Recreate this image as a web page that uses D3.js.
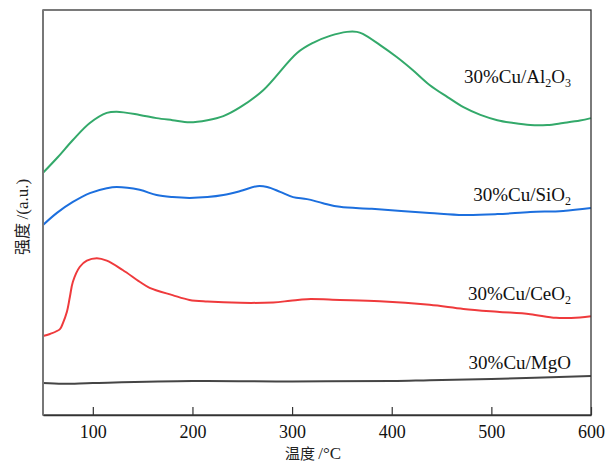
<!DOCTYPE html>
<html>
<head>
<meta charset="utf-8">
<script src="https://cdn.jsdelivr.net/npm/d3@7"></script>
<style>
  body { margin: 0; background: #fff; }
  text { font-family: "Liberation Serif", "Times New Roman", serif; }
  .cjk { font-family: "Noto Sans CJK SC", sans-serif; }
</style>
</head>
<body>
<svg id="chart" width="606" height="462"></svg>
<script>
// temperature (°C) / intensity (a.u.) readings for each catalyst
const tempAl = [50, 65, 80, 97, 114, 124, 147, 164, 180, 197, 215, 231, 248, 271, 305, 321, 338, 355, 365, 371, 388, 405, 421, 438, 456, 472, 489, 506, 522, 539, 556, 572, 589, 600];
const valAl  = [59.8, 63.7, 67.9, 72.1, 74.6, 74.9, 74.1, 73.3, 72.8, 72.3, 72.8, 73.8, 76.0, 80.2, 89.4, 91.9, 93.6, 94.6, 94.6, 94.1, 91.4, 88.4, 85.2, 81.5, 78.5, 76.0, 74.1, 72.8, 72.1, 71.6, 71.6, 72.1, 72.7, 73.3];

const tempSi = [50, 64, 80, 97, 114, 124, 147, 164, 180, 197, 215, 231, 248, 265, 275, 288, 301, 315, 331, 348, 380, 438, 472, 506, 539, 572, 600];
const valSi  = [46.9, 49.9, 52.6, 54.8, 56.0, 56.3, 55.6, 54.3, 53.8, 53.6, 53.8, 54.3, 55.3, 56.5, 56.3, 55.1, 53.8, 53.3, 52.3, 51.4, 50.9, 49.9, 49.4, 49.6, 50.1, 50.4, 51.1];

const tempCe = [50, 57, 67, 70, 74, 77, 80, 87, 94, 104, 114, 130, 147, 157, 180, 197, 215, 248, 281, 298, 315, 348, 388, 438, 472, 506, 539, 565, 589, 600];
const valCe  = [19.5, 20.0, 21.2, 22.7, 25.5, 29.2, 32.9, 36.6, 38.1, 38.7, 38.1, 35.8, 32.9, 31.4, 29.6, 28.4, 28.0, 27.7, 27.8, 28.2, 28.6, 28.4, 28.1, 27.2, 26.2, 25.5, 24.9, 24.0, 24.1, 24.4];

const tempMg = [50, 70, 100, 200, 300, 400, 438, 500, 600];
const valMg  = [7.9, 7.7, 7.9, 8.4, 8.3, 8.4, 8.6, 8.9, 9.6];

const xTicks = [100, 200, 300, 400, 500, 600];

// label: [main text, subscript, trailing, subscript]
const seriesNames = [
  ["30%Cu/Al", "2", "O", "3"],
  ["30%Cu/SiO", "2", "", ""],
  ["30%Cu/CeO", "2", "", ""],
  ["30%Cu/MgO", "", "", ""]
];
const seriesColors = ["#33a96a", "#1c6fde", "#ef3a3c", "#454545"];

const series = [
  tempAl.map((t, i) => ({ t, v: valAl[i] })),
  tempSi.map((t, i) => ({ t, v: valSi[i] })),
  tempCe.map((t, i) => ({ t, v: valCe[i] })),
  tempMg.map((t, i) => ({ t, v: valMg[i] }))
];

const svg = d3.select("#chart");
const margin = { left: 43, right: 15, top: 10, bottom: 47 };
const width = 606 - margin.left - margin.right;
const height = 462 - margin.top - margin.bottom;

const x = d3.scaleLinear().domain([50, 600]).range([0, width]);
const y = d3.scaleLinear().domain([0, 100]).range([height, 0]);

const g = svg.append("g").attr("transform", `translate(${margin.left},${margin.top})`);

// curves
const line = d3.line()
  .x(d => x(d.t))
  .y(d => y(d.v))
  .curve(d3.curveCatmullRom.alpha(0.5));

g.selectAll(".series")
  .data(series)
  .enter().append("path")
  .attr("class", "series")
  .attr("d", line)
  .attr("fill", "none")
  .attr("stroke", (d, i) => seriesColors[i])
  .attr("stroke-width", 2);

// frame
g.append("rect")
  .attr("width", width).attr("height", height)
  .attr("fill", "none").attr("stroke", "#333").attr("stroke-width", 1.3);
g.append("line")
  .attr("x1", 0).attr("x2", 0).attr("y1", 0).attr("y2", height)
  .attr("stroke", "#777").attr("stroke-width", 2);

// x axis, ticks pointing inward
const xAxis = d3.axisBottom(x).tickValues(xTicks).tickSizeInner(-8).tickSizeOuter(0).tickPadding(10);
const ax = g.append("g").attr("transform", `translate(0,${height})`).call(xAxis);
ax.select(".domain").attr("stroke", "#333").attr("stroke-width", 1.3);
ax.selectAll(".tick line").attr("stroke", "#333").attr("stroke-width", 1.2);
ax.selectAll(".tick text")
  .attr("font-family", "Liberation Serif, serif")
  .attr("font-size", 18).attr("fill", "#111");

// axis titles
svg.append("text")
  .attr("x", 313).attr("y", 459)
  .attr("text-anchor", "middle")
  .attr("font-size", 15).attr("fill", "#222")
  .call(t => {
    t.append("tspan").attr("class", "cjk").text("温度 ");
    t.append("tspan").attr("font-size", 17).text("/°C");
  });

svg.append("text")
  .attr("transform", "translate(28,217) rotate(-90)")
  .attr("text-anchor", "middle")
  .attr("font-size", 16).attr("fill", "#222")
  .call(t => {
    t.append("tspan").attr("class", "cjk").text("强度 ");
    t.append("tspan").attr("font-size", 17).text("/(a.u.)");
  });

// series labels (right-aligned inside the plot)
const labelBase = [83, 201, 300, 369];
seriesNames.forEach((parts, i) => {
  const t = svg.append("text")
    .attr("x", 571).attr("y", labelBase[i])
    .attr("text-anchor", "end")
    .attr("font-size", 19).attr("fill", "#111");
  t.append("tspan").text(parts[0]);
  if (parts[1]) t.append("tspan").attr("font-size", 12).attr("dy", 4).text(parts[1]);
  if (parts[2]) t.append("tspan").attr("dy", -4).text(parts[2]);
  if (parts[3]) t.append("tspan").attr("font-size", 12).attr("dy", 4).text(parts[3]);
});
</script>
</body>
</html>
